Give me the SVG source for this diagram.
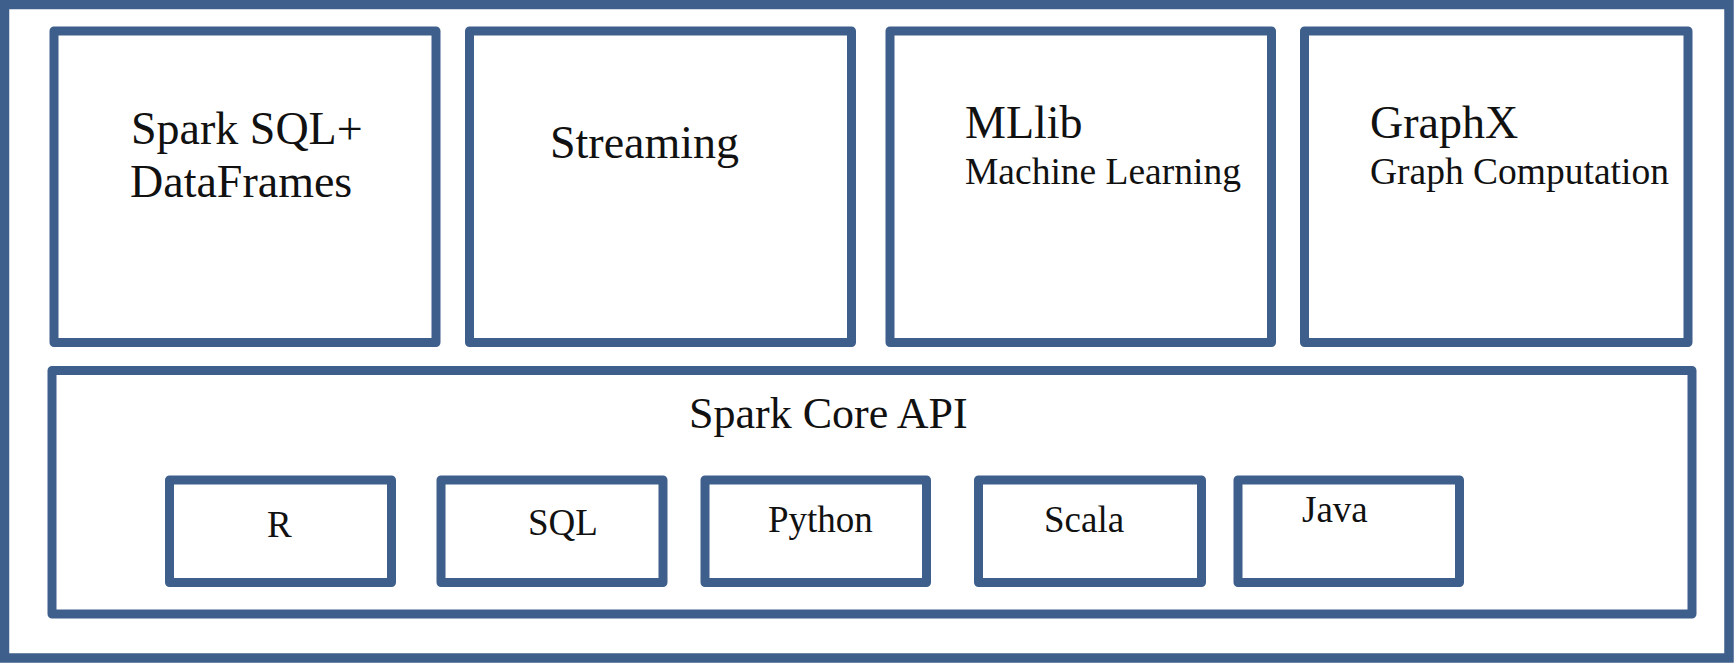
<svg xmlns="http://www.w3.org/2000/svg" width="1734" height="663" viewBox="0 0 1734 663">
<style>
.box{fill:#ffffff;stroke:#3e5f8b;stroke-width:9;stroke-linejoin:round}
.frame{fill:#ffffff;stroke:#3e5f8b;stroke-width:9.5}
text{font-family:"Liberation Serif","Times New Roman",serif;fill:#111111}
.big{font-size:46px}
.mid{font-size:37.5px}
.core{font-size:44px}
.lang{font-size:37px}
</style>
<rect width="1734" height="663" fill="#ffffff"/>
<g id="frame"><rect class="frame" x="4.5" y="4.5" width="1724.5" height="653.5"/></g>
<g id="spark-sql">
<rect class="box" x="54" y="31" width="382" height="311.5"/>
<text class="big" x="131" y="144">Spark SQL+</text>
<text class="big" x="130" y="197">DataFrames</text>
</g>
<g id="streaming">
<rect class="box" x="469.5" y="31" width="382" height="311.5"/>
<text class="big" x="550" y="158">Streaming</text>
</g>
<g id="mllib">
<rect class="box" x="890" y="31" width="381.5" height="311.5"/>
<text class="big" x="965" y="138">MLlib</text>
<text class="mid" x="965" y="184">Machine Learning</text>
</g>
<g id="graphx">
<rect class="box" x="1304.5" y="31" width="383.5" height="311.5"/>
<text class="big" x="1370" y="138">GraphX</text>
<text class="mid" x="1370" y="184">Graph Computation</text>
</g>
<g id="core">
<rect class="box" x="52" y="370.5" width="1640" height="243.5"/>
<text class="core" x="689" y="428">Spark Core API</text>
</g>
<g id="lang-r">
<rect class="box" x="169.5" y="480" width="222" height="102.5"/>
<text class="lang" x="267" y="537">R</text>
</g>
<g id="lang-sql">
<rect class="box" x="441" y="480" width="222" height="102.5"/>
<text class="lang" x="528" y="535">SQL</text>
</g>
<g id="lang-python">
<rect class="box" x="705" y="480" width="221.5" height="102.5"/>
<text class="lang" x="768" y="532">Python</text>
</g>
<g id="lang-scala">
<rect class="box" x="978.5" y="480" width="223" height="102.5"/>
<text class="lang" x="1044" y="532">Scala</text>
</g>
<g id="lang-java">
<rect class="box" x="1238" y="480" width="221.5" height="102.5"/>
<text class="lang" x="1302" y="522">Java</text>
</g>
<g id="connectors"></g>
</svg>
